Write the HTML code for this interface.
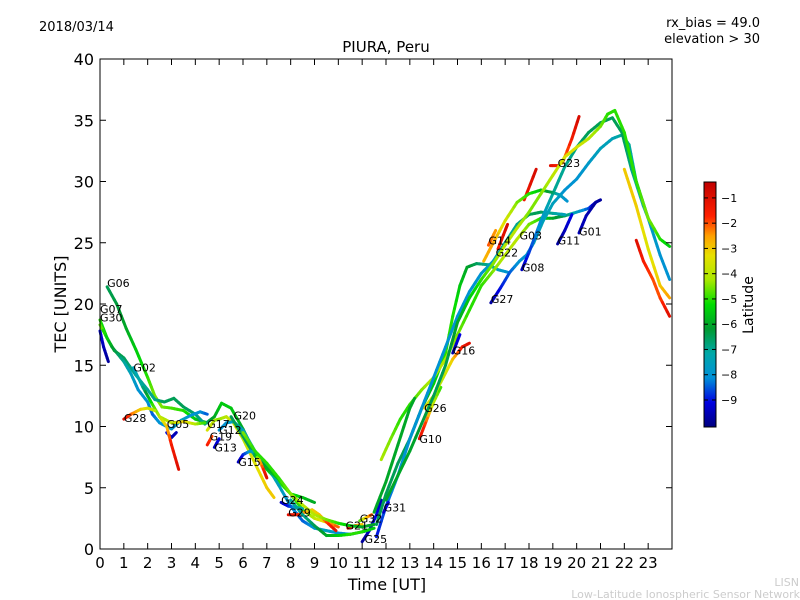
<!DOCTYPE html>
<html><head><meta charset="utf-8"><style>
body{margin:0;background:#fff;}
svg{display:block;font-family:"DejaVu Sans","Liberation Sans",sans-serif;}
</style></head><body>
<svg id="chart" width="800" height="600" viewBox="0 0 800 600" xmlns="http://www.w3.org/2000/svg">
<defs>
<linearGradient id="cbg" x1="0" y1="1" x2="0" y2="0">
<stop offset="0" stop-color="#00007f"/><stop offset="0.1" stop-color="#0000e0"/><stop offset="0.2" stop-color="#0090d8"/><stop offset="0.3" stop-color="#00a8a8"/><stop offset="0.4" stop-color="#009a30"/><stop offset="0.5" stop-color="#00dd00"/><stop offset="0.6" stop-color="#a8e800"/><stop offset="0.7" stop-color="#e8e000"/><stop offset="0.78" stop-color="#ffa000"/><stop offset="0.86" stop-color="#ff2000"/><stop offset="1" stop-color="#c00000"/>
</linearGradient>
</defs>
<rect width="800" height="600" fill="#fff"/>
<text x="39" y="31" font-size="13">2018/03/14</text>
<text x="760" y="27" font-size="13" text-anchor="end">rx_bias = 49.0</text>
<text x="760" y="43" font-size="13" text-anchor="end">elevation &gt; 30</text>
<text x="386" y="52" font-size="15" text-anchor="middle">PIURA, Peru</text>
<g id="marks"></g>
<g id="labels"></g>
<rect x="100" y="59" width="572" height="490" fill="none" stroke="#000" stroke-width="1"/>
<g id="axes"></g>
<text x="387" y="590" font-size="16" text-anchor="middle">Time [UT]</text>
<text transform="translate(66,304) rotate(-90)" font-size="16" text-anchor="middle">TEC [UNITS]</text>
<rect x="704" y="182" width="12" height="245" fill="url(#cbg)" stroke="#000" stroke-width="1"/>
<g id="cbticks"></g>
<text transform="translate(753,305) rotate(-90)" font-size="14" text-anchor="middle">Latitude</text>
<text x="799" y="586" font-size="11" fill="#ccc" text-anchor="end">LISN</text>
<text x="800" y="598" font-size="11" fill="#ccc" text-anchor="end">Low-Latitude Ionospheric Sensor Network</text>
</svg>
<script>
const xTicks=[0,1,2,3,4,5,6,7,8,9,10,11,12,13,14,15,16,17,18,19,20,21,22,23];
const yTicks=[0,5,10,15,20,25,30,35,40];
const cbTicks=[-1,-2,-3,-4,-5,-6,-7,-8,-9];
const seriesNames=["G06","G07","G30","","G02","G28","G05","","G17","G12","G20","G19","G13","G15","G24","G29","G21","G32","G25","","","","","G10","G26","G16","","","G27","G08","G11","G01","G23","","","G14","","","","G22","G03","G31"];
const seriesPts=[
[[0.3,21.4,-6.5],[0.7,20,-6.3],[1.1,18,-6],[1.5,16.3,-5.5],[2,14,-5],[2.3,12.5,-4.5],[2.6,11.6,-4.5],[3,11.5,-4.8],[3.5,11.3,-5],[4,10.6,-5.5],[4.5,10.3,-6]],
[[0,18.7,-5],[0.3,17.2,-5.5],[0.6,16.2,-6],[1,15.6,-6.5],[1.5,14.2,-7],[2,13,-7],[2.3,12.2,-7],[2.7,12,-6.5],[3.1,12.3,-6.5],[3.5,11.6,-6.5],[4,11,-6.7],[4.4,10.2,-7],[4.8,10.8,-6],[5.1,11.9,-5.5],[5.5,11.5,-5.5],[6,9.8,-6],[6.5,7.8,-6],[7,6.5,-5.5],[7.5,5.5,-5],[8,4.5,-5],[8.5,4.2,-5.5],[9,3.8,-6]],
[[0,17.8,-9],[0.15,16.5,-9.5],[0.35,15.3,-9.8]],
[[0,18.3,-4.5],[0.5,16.5,-6],[1,15.3,-7],[1.3,14.3,-7.5],[1.6,13,-8],[2,12,-8],[2.2,11,-8.5],[2.5,10.3,-8],[3,9.8,-8],[3.4,10.5,-7.5],[3.8,10.9,-8],[4.2,11.2,-8],[4.5,11,-8.5]],
[[1.4,14.8,-7.5],[1.8,13.2,-7],[2.2,11.8,-5],[2.5,10.8,-4.2],[3,10.3,-4],[3.5,10.4,-3],[4,10.2,-4],[4.4,10.3,-5]],
[[1,10.6,-1],[1.3,11,-2],[1.7,11.4,-3],[2,11.5,-3.5],[2.3,11.3,-4]],
[[2.8,9.5,-9],[3,9.1,-9.5],[3.2,9.5,-9.5]],
[[2.5,10.8,-4],[2.8,10,-3],[3,8.5,-1.5],[3.3,6.5,-1]],
[[4.5,9.7,-3.5],[4.8,10.5,-4],[5,10.6,-4.5],[5.3,10.8,-4],[5.6,10.3,-3.5],[6,9,-4],[6.5,7,-3.5],[7,5,-3],[7.3,4.2,-3]],
[[5,9.7,-8],[5.3,10.3,-8],[5.6,10.4,-7.5],[6,9.7,-7.5],[6.5,8,-7],[7,6.8,-7],[7.5,5.2,-7.5],[8,3.5,-8],[8.5,2.3,-8.5],[9,1.7,-8],[9.5,1.5,-7.5],[10,1.3,-8],[10.5,1.2,-8],[11,1.4,-8.5],[11.2,1.5,-9]],
[[5.5,10.8,-6.5],[6,9.2,-6.5],[6.5,7.6,-6.5],[7,6.6,-6],[7.5,5.7,-5.5],[8,4.5,-5],[8.5,3.2,-5],[9,2.5,-4],[9.5,2.2,-3],[10,1.8,-2]],
[[4.5,8.5,-1.5],[4.7,9.2,-2]],
[[4.8,8.3,-9.5],[5,9,-9]],
[[5.8,7.1,-9.5],[6,7.7,-9],[6.3,8,-8],[6.5,7.8,-7],[6.7,7.2,-3],[6.9,6.3,-1.5],[7,5.8,-1]],
[[7.6,3.8,-9.5],[7.9,3.5,-9],[8.2,3.4,-8],[8.5,3.3,-7]],
[[7.9,2.8,-1],[8.3,2.8,-1.5],[8.6,3,-2.5],[8.9,3.2,-3],[9.2,2.8,-3],[9.5,2.2,-2],[9.9,1.5,-1]],
[[10.4,1.7,-1],[10.7,1.9,-2],[11,2,-3]],
[[10.9,2.3,-5],[11.2,2.6,-3],[11.4,2.8,-2]],
[[11,0.6,-9.8],[11.3,1.5,-9.5],[11.6,2.8,-9],[11.8,4,-9.5]],
[[6,9.5,-4.5],[6.5,8,-5],[7,7,-5],[7.5,5.8,-5],[8,4.5,-4.5],[8.5,3.6,-4],[9,2.8,-4],[9.5,2.4,-4.5],[10,2.1,-5],[10.5,1.9,-5.5],[11,1.8,-6],[11.5,2,-6]],
[[8,4,-7],[8.5,2.8,-7],[9,1.9,-6.5],[9.5,1.1,-6],[10,1.1,-5.5],[10.5,1.2,-5],[11,1.4,-5],[11.5,1.7,-5.5]],
[[11.6,2,-6.5],[12,4.5,-6.5],[12.5,7,-6.5],[13,9,-6.5],[13.5,11.5,-6],[14,13.5,-5.5],[14.5,16,-5],[14.8,19,-5],[15.1,21.5,-5.5],[15.4,23,-6],[15.8,23.3,-6.5],[16.3,23.2,-7],[16.7,22.8,-7.5],[17.1,22.6,-8]],
[[11.8,7.3,-4.2],[12.2,9,-4.5],[12.6,10.6,-5],[13,11.8,-5],[13.5,13,-4.5],[14,14,-4],[14.5,15.5,-4],[15,17.5,-4.5],[15.5,19.5,-5],[16,21.5,-5],[16.5,22.7,-4.5],[17,24,-4],[17.5,25.3,-4],[18,26.5,-4.5],[18.5,27,-5],[19,27,-6],[19.5,27.2,-6.5],[20,27.5,-7.5],[20.5,27.8,-8.5],[20.8,28.3,-9.5],[21,28.5,-9.8]],
[[13.4,9,-1],[13.7,10.5,-2],[14,12,-4],[14.3,13.2,-5]],
[[13.6,11.5,-3],[14,12.5,-4],[14.4,14,-4],[14.8,15.5,-3],[15.2,16.5,-1.5],[15.5,16.8,-1]],
[[14.8,16,-9.8],[15.1,17.5,-9]],
[[11.6,1,-9],[12,3.5,-8.5],[12.5,6,-8],[13,9,-8],[13.5,11.5,-8],[14,14,-8],[14.5,16.5,-8],[15,19,-8],[15.5,21,-8],[16,22.5,-8],[16.5,23.5,-7.5],[17,25,-7],[17.5,26.5,-7],[18,27.3,-6.5],[18.5,27.5,-6.5],[19,27.4,-7],[19.5,27.3,-7.5]],
[[11.5,3,-6],[12,5.5,-6],[12.5,8.5,-6],[13,11.5,-6],[13.2,12.3,-6]],
[[16.4,20.1,-9.8],[16.8,21.3,-9],[17.2,22.6,-8.5],[17.6,23.5,-8],[17.9,24,-8],[18.2,25,-7.5],[18.6,26.8,-7.5],[19,28.2,-7.5],[19.5,29.3,-8],[20,30.2,-8],[20.5,31.5,-7.8],[21,32.7,-7.5],[21.5,33.5,-7.5],[21.9,33.8,-7],[22.2,33,-7],[22.5,30,-7.5],[23,27,-7.5],[23.5,24,-8],[23.9,22,-8]],
[[17.7,22.8,-9.5],[18,24.2,-8.8],[18.5,26.8,-8],[19,29,-7],[19.5,31.2,-7],[20,32.8,-6.8],[20.5,34,-6.5],[21,34.8,-6.5],[21.5,35.2,-6.5],[21.9,34,-6.5],[22.3,31,-6.8],[22.8,28,-7.5],[23.2,26,-8]],
[[19.2,24.9,-9.8],[19.5,26,-9.5],[19.8,27.3,-9]],
[[20.1,25.8,-9.5],[20.4,27.2,-9.5],[20.8,28.3,-9.8]],
[[18.9,31.3,-1],[19.2,31.3,-1.5]],
[[19.4,31.5,-2.5],[19.8,33.5,-1.5],[20.1,35.3,-0.8]],
[[17.8,28.5,-1.5],[18.3,31,-0.8]],
[[16.3,24.8,-2],[16.6,26,-2.5]],
[[16.7,24.5,-1.5],[17,26,-1],[17.1,26.5,-0.8]],
[[22.5,25.2,-1],[22.8,23.5,-1.5],[23.2,22,-2],[23.5,20.5,-2],[23.9,19,-1]],
[[22,31,-3],[22.5,28,-3],[23,24.5,-3.5],[23.5,21.5,-3],[23.9,20.5,-2.5]],
[[16.1,23.5,-2.8],[16.5,25,-2.5],[17,26.8,-3.5],[17.5,28.3,-4.5],[18,29,-5],[18.5,29.3,-5.5],[19,29.1,-6.5],[19.3,28.9,-7.5],[19.6,28.4,-8]],
[[12,4,-6],[13,8,-6],[14,12.5,-6.5],[14.5,15,-6.5],[15,18.5,-6],[15.5,20.5,-5.5],[16,22,-5],[16.5,23.3,-4.5],[17,24.8,-4],[17.5,26.2,-4],[18,27.5,-4.5],[18.5,29,-4.5],[19,30.5,-4],[19.5,32,-3.5],[20,32.8,-3.5],[20.5,33.5,-4],[21,34.5,-4.5],[21.3,35.5,-5],[21.6,35.8,-5],[22,34,-5],[22.5,30,-5],[23,27,-4.5],[23.5,25.3,-5],[23.9,24.7,-5.5]],
[[11.9,3,-9.5],[12.1,3.8,-9]]
];
const labelT=[0.3,0,0,0,1.4,1,2.8,0,4.5,5,5.6,4.6,4.8,5.8,7.6,7.9,10.3,10.9,11.1,0,0,0,0,13.4,13.6,14.8,0,0,16.4,17.7,19.2,20.1,19.2,0,0,16.3,0,0,0,16.6,17.6,11.9];
const labelV=[21.7,19.6,18.9,0,14.8,10.7,10.2,0,10.2,9.7,10.9,9.2,8.3,7.1,4.0,3.0,1.9,2.5,0.8,0,0,0,0,9.0,11.5,16.2,0,0,20.4,23.0,25.2,25.9,31.5,0,0,25.2,0,0,0,24.2,25.6,3.4];

const X0=100,X1=672,Y0=549,Y1=59;
const xs=t=>X0+(X1-X0)*t/24;
const ys=v=>Y0-(Y0-Y1)*v/40;
const cbY=l=>427-245*(l+10.07)/9.7;
const stops=[[0,[0,0,127]],[0.1,[0,0,224]],[0.2,[0,144,216]],[0.3,[0,168,168]],[0.4,[0,154,48]],[0.5,[0,221,0]],[0.6,[168,232,0]],[0.7,[232,224,0]],[0.78,[255,160,0]],[0.86,[255,32,0]],[1,[192,0,0]]];
function col(l){let f=(l+10.07)/9.7;f=Math.max(0,Math.min(1,f));for(let i=1;i<stops.length;i++){if(f<=stops[i][0]){const a=stops[i-1],b=stops[i];const k=(f-a[0])/(b[0]-a[0]);const c=a[1].map((v,j)=>Math.round(v+(b[1][j]-v)*k));return `rgb(${c})`;}}return 'rgb(192,0,0)';}
const NS="http://www.w3.org/2000/svg";
const marks=document.getElementById('marks');
seriesPts.forEach((pts,si)=>{
  const g=document.createElementNS(NS,'g');
  
  
  for(let i=1;i<pts.length;i++){
    const a=pts[i-1],b=pts[i];
    const n=4;
    for(let k=0;k<n;k++){
      const f0=k/n,f1=(k+1)/n;
      const ln=document.createElementNS(NS,'line');
      ln.setAttribute('x1',xs(a[0]+(b[0]-a[0])*f0));ln.setAttribute('y1',ys(a[1]+(b[1]-a[1])*f0));
      ln.setAttribute('x2',xs(a[0]+(b[0]-a[0])*f1));ln.setAttribute('y2',ys(a[1]+(b[1]-a[1])*f1));
      ln.setAttribute('stroke',col(a[2]+(b[2]-a[2])*(f0+f1)/2));
      ln.setAttribute('stroke-width','3');ln.setAttribute('stroke-linecap','round');
      g.appendChild(ln);
    }
  }
  marks.appendChild(g);
});
const labels=document.getElementById('labels');
seriesNames.forEach((nm,i)=>{
  if(!nm)return;
  const t=document.createElementNS(NS,'text');
  
  
  t.setAttribute('x',xs(labelT[i]));t.setAttribute('y',ys(labelV[i])+4);
  t.setAttribute('font-size','11');t.textContent=nm;labels.appendChild(t);
});
const axes=document.getElementById('axes');
function add(tag,attrs,txt){const e=document.createElementNS(NS,tag);for(const k in attrs)e.setAttribute(k,attrs[k]);if(txt!==undefined)e.textContent=txt;axes.appendChild(e);return e;}
xTicks.forEach(t=>{
  const e1=add('line',{x1:xs(t),x2:xs(t),y1:Y0,y2:Y0-6,stroke:'#000'});
  
  const e2=add('line',{x1:xs(t),x2:xs(t),y1:Y1,y2:Y1+6,stroke:'#000'});
  
  const l=add('text',{x:xs(t),y:568,'font-size':'15','text-anchor':'middle'},String(t));
  
});
yTicks.forEach(v=>{
  const e1=add('line',{x1:X0,x2:X0+6,y1:ys(v),y2:ys(v),stroke:'#000'});
  
  const e2=add('line',{x1:X1,x2:X1-6,y1:ys(v),y2:ys(v),stroke:'#000'});
  
  const l=add('text',{x:94,y:ys(v)+6,'font-size':'16','text-anchor':'end'},String(v));
  
});
const cbt=document.getElementById('cbticks');
cbTicks.forEach(v=>{
  const y=cbY(v);
  const a=document.createElementNS(NS,'line');
  
  
  a.setAttribute('x1',704);a.setAttribute('x2',708);a.setAttribute('y1',y);a.setAttribute('y2',y);a.setAttribute('stroke','#000');cbt.appendChild(a);
  const b=document.createElementNS(NS,'line');
  
  
  b.setAttribute('x1',712);b.setAttribute('x2',716);b.setAttribute('y1',y);b.setAttribute('y2',y);b.setAttribute('stroke','#000');cbt.appendChild(b);
  const t=document.createElementNS(NS,'text');
  
  
  t.setAttribute('x',721);t.setAttribute('y',y+4);t.setAttribute('font-size','11');t.textContent='\u2212'+Math.abs(v);cbt.appendChild(t);
});
</script>
</body></html>
